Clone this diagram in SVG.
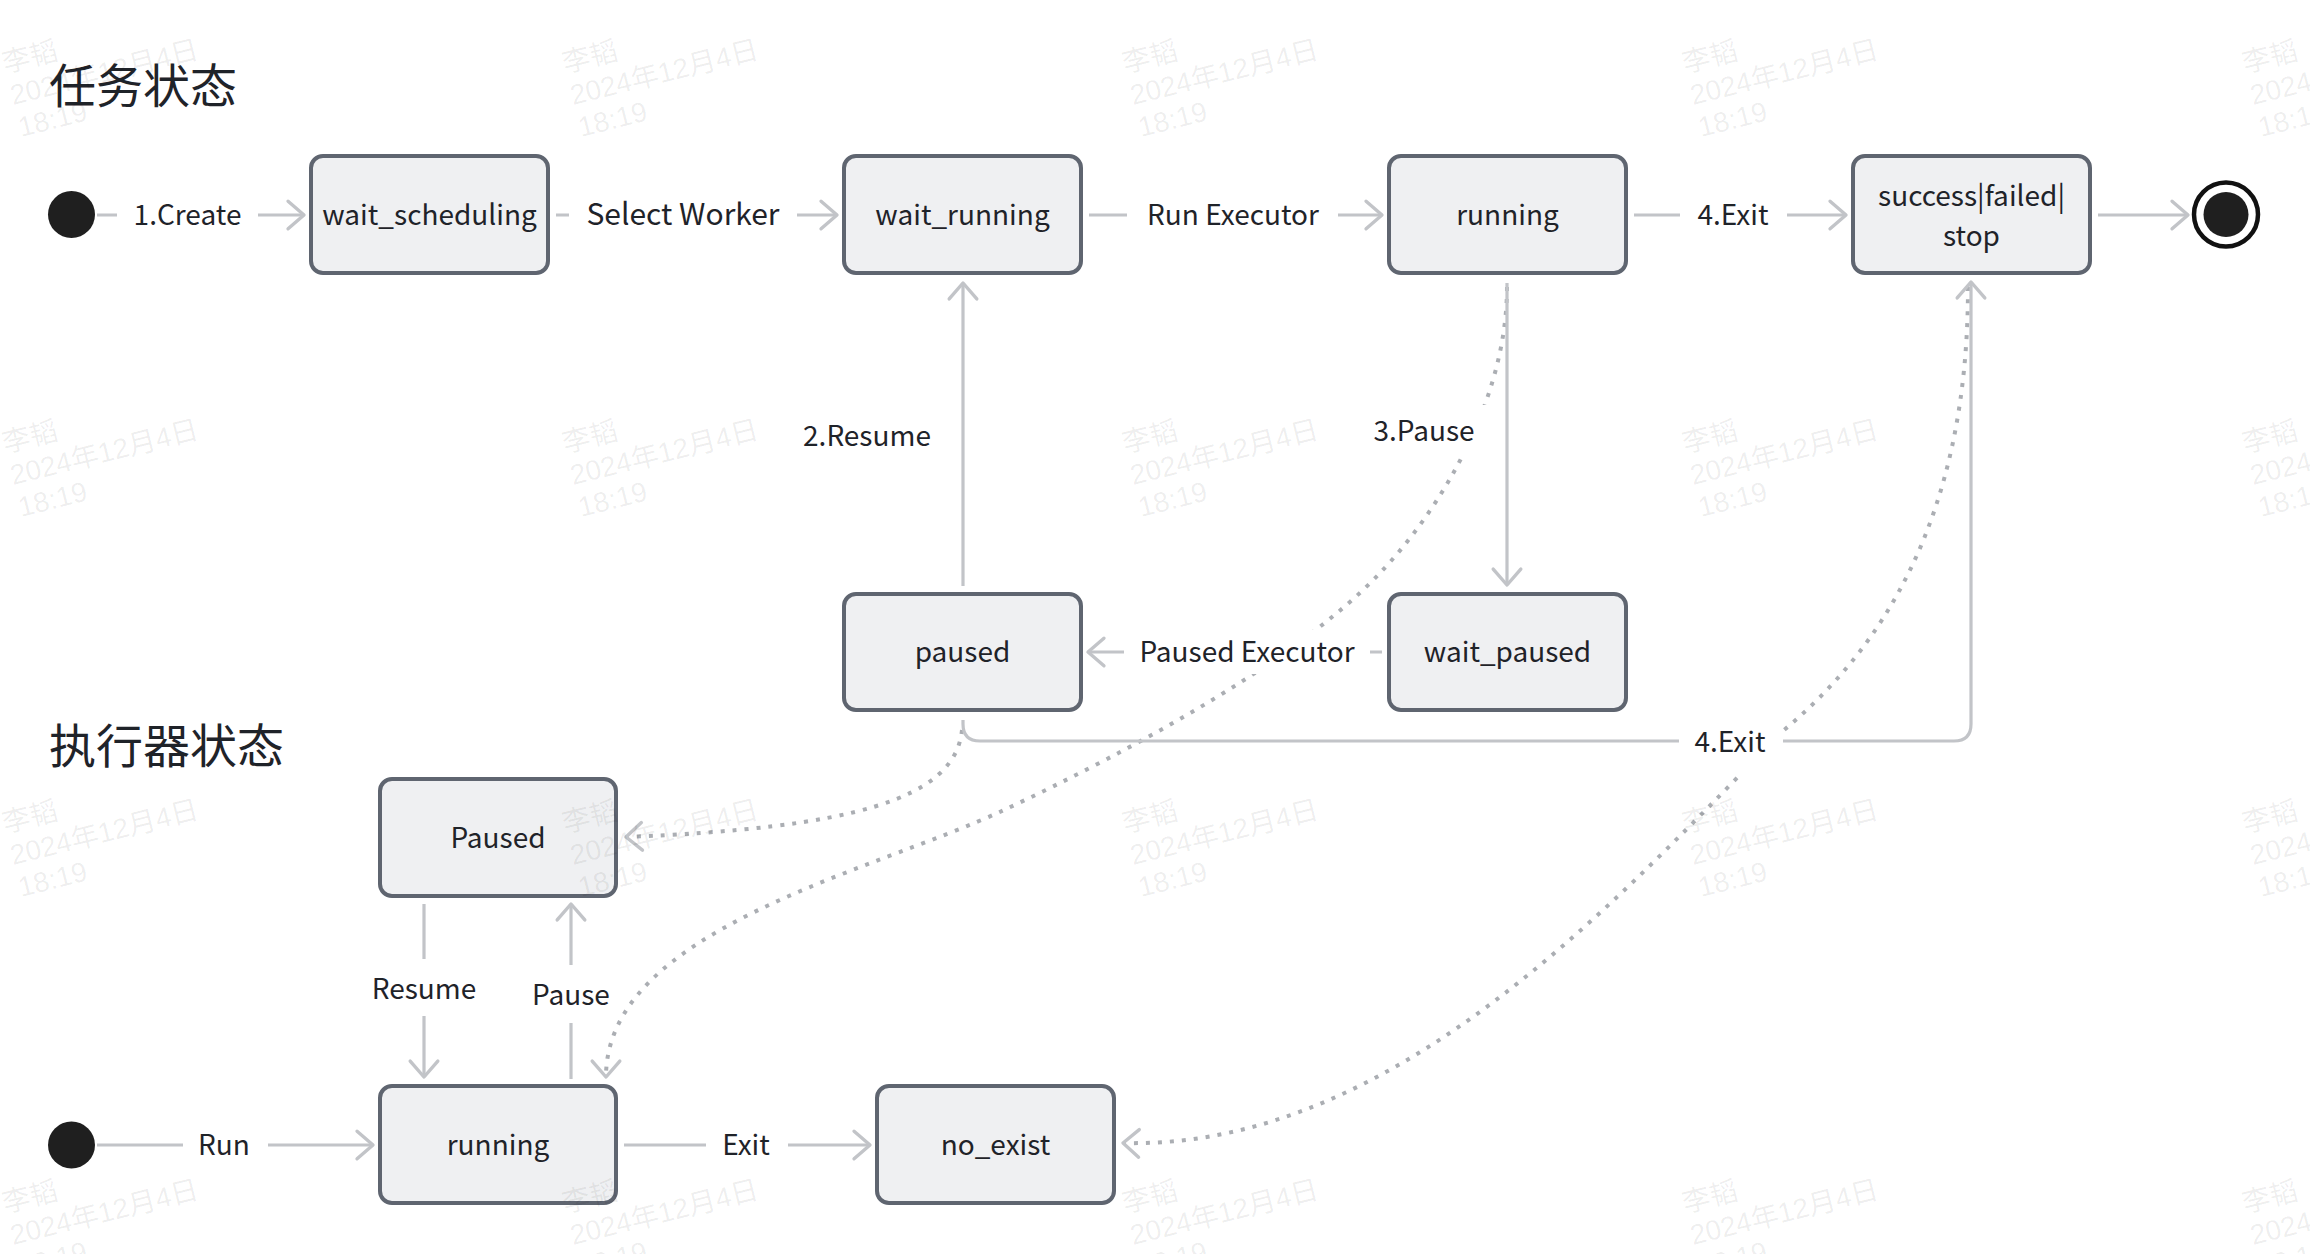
<svg xmlns="http://www.w3.org/2000/svg" width="2310" height="1254" viewBox="0 0 2310 1254">
<style>
.node rect{fill:#eff0f2;stroke:#5f6570;stroke-width:4}
.t{font-family:'Noto Sans CJK SC','Noto Sans',sans-serif;font-size:28px;fill:#1f2329;text-anchor:middle}
.title{font-family:'Noto Sans CJK SC','Noto Sans',sans-serif;font-size:47px;fill:#1f2329}
.edge{fill:none;stroke:#c2c4c8;stroke-width:3.2}
.dot{fill:none;stroke:#abaeb3;stroke-width:4;stroke-dasharray:4 8}
.lbg{fill:#ffffff}
.wm{font-family:'Liberation Sans','Noto Sans CJK SC',sans-serif;font-size:28px;fill:#000;fill-opacity:0.07}
</style>
<defs>
<marker id="arr" markerUnits="userSpaceOnUse" markerWidth="34" markerHeight="34" viewBox="-18 -16 20 32" refX="0" refY="0" orient="auto" overflow="visible">
<path d="M-15,-13 L0,0 L-15,13" fill="none" stroke="#c2c4c8" stroke-width="3.2" stroke-linecap="round" stroke-linejoin="round"/>
</marker>
</defs>
<rect width="2310" height="1254" fill="#ffffff"/>
<text class="title" x="49" y="103">任务状态</text>
<text class="title" x="49" y="763">执行器状态</text>

<g id="connectors">
<path class="dot" d="M962,730 C955,800 850,828 626,837" marker-end="url(#arr)"/>
<path class="dot" d="M1507,287 C1507,400 1440,510 1380,573 C1297,661 1130,751 1004,810 C869,873 606,930 606,1077" marker-end="url(#arr)"/>
<path class="dot" d="M1968,287 C1968,520 1880,650 1784,730 C1630,885 1400,1150 1123,1143" marker-end="url(#arr)"/>

<path class="edge" d="M97,215 H304" marker-end="url(#arr)"/>
<path class="edge" d="M556,215 H837" marker-end="url(#arr)"/>
<path class="edge" d="M1089,215 H1382" marker-end="url(#arr)"/>
<path class="edge" d="M1634,215 H1846" marker-end="url(#arr)"/>
<path class="edge" d="M2098,215 H2188" marker-end="url(#arr)"/>
<path class="edge" d="M1507,283 V585" marker-end="url(#arr)"/>
<path class="edge" d="M963,586 V283" marker-end="url(#arr)"/>
<path class="edge" d="M1382,652 H1088" marker-end="url(#arr)"/>
<path class="edge" d="M963,720 V724 Q963,741 980,741 H1954 Q1971,741 1971,724 V282" marker-end="url(#arr)"/>
<path class="edge" d="M97,1145 H373" marker-end="url(#arr)"/>
<path class="edge" d="M624,1145 H870" marker-end="url(#arr)"/>
<path class="edge" d="M424,904 V1077" marker-end="url(#arr)"/>
<path class="edge" d="M571,1079 V904" marker-end="url(#arr)"/>

<rect class="lbg" x="117" y="195" width="141" height="42"/>
<text class="t" x="187.5" y="225">1.Create</text>
<rect class="lbg" x="569" y="195" width="228" height="42"/>
<text class="t" x="683" y="225" style="font-size:30px">Select Worker</text>
<rect class="lbg" x="1127" y="195" width="211" height="42"/>
<text class="t" x="1233" y="225">Run Executor</text>
<rect class="lbg" x="1680" y="195" width="107" height="42"/>
<text class="t" x="1733" y="225">4.Exit</text>
<rect class="lbg" x="1362" y="405" width="126" height="52"/>
<text class="t" x="1424" y="441">3.Pause</text>
<text class="t" x="867" y="446">2.Resume</text>
<rect class="lbg" x="1124" y="630" width="246" height="44"/>
<text class="t" x="1247" y="662">Paused Executor</text>
<rect class="lbg" x="1679" y="722" width="104" height="52"/>
<text class="t" x="1730" y="752">4.Exit</text>
<rect class="lbg" x="183" y="1125" width="85" height="42"/>
<text class="t" x="224" y="1155">Run</text>
<rect class="lbg" x="706" y="1125" width="82" height="42"/>
<text class="t" x="746" y="1155">Exit</text>
<rect class="lbg" x="370" y="959" width="108" height="57"/>
<text class="t" x="424" y="999">Resume</text>
<rect class="lbg" x="527" y="965" width="88" height="58"/>
<text class="t" x="571" y="1005">Pause</text>
</g>

<g id="task_start"><circle cx="71.5" cy="214.5" r="23.5" fill="#1f1f1f"/></g>
<g id="task_end"><circle cx="2226" cy="214.5" r="32" fill="#ffffff" stroke="#111111" stroke-width="4.5"/><circle cx="2226" cy="214.5" r="22.5" fill="#1f1f1f"/></g>
<g id="wait_scheduling" class="node"><rect x="311" y="156" width="237" height="117" rx="12"/><text class="t" x="429.5" y="225">wait_scheduling</text></g>
<g id="wait_running" class="node"><rect x="844" y="156" width="237" height="117" rx="12"/><text class="t" x="962.5" y="225">wait_running</text></g>
<g id="running_task" class="node"><rect x="1389" y="156" width="237" height="117" rx="12"/><text class="t" x="1507.5" y="225">running</text></g>
<g id="success_failed_stop" class="node"><rect x="1853" y="156" width="237" height="117" rx="12"/><text class="t" x="1971.5" y="206">success|failed|</text><text class="t" x="1971.5" y="246">stop</text></g>
<g id="paused_task" class="node"><rect x="844" y="594" width="237" height="116" rx="12"/><text class="t" x="962.5" y="662">paused</text></g>
<g id="wait_paused" class="node"><rect x="1389" y="594" width="237" height="116" rx="12"/><text class="t" x="1507.5" y="662">wait_paused</text></g>

<g id="exec_start"><circle cx="71.5" cy="1145" r="23.5" fill="#1f1f1f"/></g>
<g id="Paused_exec" class="node"><rect x="380" y="779" width="236" height="117" rx="12"/><text class="t" x="498" y="848">Paused</text></g>
<g id="running_exec" class="node"><rect x="380" y="1086" width="236" height="117" rx="12"/><text class="t" x="498" y="1155">running</text></g>
<g id="no_exist" class="node"><rect x="877" y="1086" width="237" height="117" rx="12"/><text class="t" x="995.5" y="1155">no_exist</text></g>

<g id="watermarks">
<g transform="translate(5,73) rotate(-14)"><text class="wm" x="0" y="0">李韬</text><text class="wm" x="0" y="33">2024年12月4日</text><text class="wm" x="0" y="66">18:19</text></g>
<g transform="translate(565,73) rotate(-14)"><text class="wm" x="0" y="0">李韬</text><text class="wm" x="0" y="33">2024年12月4日</text><text class="wm" x="0" y="66">18:19</text></g>
<g transform="translate(1125,73) rotate(-14)"><text class="wm" x="0" y="0">李韬</text><text class="wm" x="0" y="33">2024年12月4日</text><text class="wm" x="0" y="66">18:19</text></g>
<g transform="translate(1685,73) rotate(-14)"><text class="wm" x="0" y="0">李韬</text><text class="wm" x="0" y="33">2024年12月4日</text><text class="wm" x="0" y="66">18:19</text></g>
<g transform="translate(2245,73) rotate(-14)"><text class="wm" x="0" y="0">李韬</text><text class="wm" x="0" y="33">2024年12月4日</text><text class="wm" x="0" y="66">18:19</text></g>
<g transform="translate(5,453) rotate(-14)"><text class="wm" x="0" y="0">李韬</text><text class="wm" x="0" y="33">2024年12月4日</text><text class="wm" x="0" y="66">18:19</text></g>
<g transform="translate(565,453) rotate(-14)"><text class="wm" x="0" y="0">李韬</text><text class="wm" x="0" y="33">2024年12月4日</text><text class="wm" x="0" y="66">18:19</text></g>
<g transform="translate(1125,453) rotate(-14)"><text class="wm" x="0" y="0">李韬</text><text class="wm" x="0" y="33">2024年12月4日</text><text class="wm" x="0" y="66">18:19</text></g>
<g transform="translate(1685,453) rotate(-14)"><text class="wm" x="0" y="0">李韬</text><text class="wm" x="0" y="33">2024年12月4日</text><text class="wm" x="0" y="66">18:19</text></g>
<g transform="translate(2245,453) rotate(-14)"><text class="wm" x="0" y="0">李韬</text><text class="wm" x="0" y="33">2024年12月4日</text><text class="wm" x="0" y="66">18:19</text></g>
<g transform="translate(5,833) rotate(-14)"><text class="wm" x="0" y="0">李韬</text><text class="wm" x="0" y="33">2024年12月4日</text><text class="wm" x="0" y="66">18:19</text></g>
<g transform="translate(565,833) rotate(-14)"><text class="wm" x="0" y="0">李韬</text><text class="wm" x="0" y="33">2024年12月4日</text><text class="wm" x="0" y="66">18:19</text></g>
<g transform="translate(1125,833) rotate(-14)"><text class="wm" x="0" y="0">李韬</text><text class="wm" x="0" y="33">2024年12月4日</text><text class="wm" x="0" y="66">18:19</text></g>
<g transform="translate(1685,833) rotate(-14)"><text class="wm" x="0" y="0">李韬</text><text class="wm" x="0" y="33">2024年12月4日</text><text class="wm" x="0" y="66">18:19</text></g>
<g transform="translate(2245,833) rotate(-14)"><text class="wm" x="0" y="0">李韬</text><text class="wm" x="0" y="33">2024年12月4日</text><text class="wm" x="0" y="66">18:19</text></g>
<g transform="translate(5,1213) rotate(-14)"><text class="wm" x="0" y="0">李韬</text><text class="wm" x="0" y="33">2024年12月4日</text><text class="wm" x="0" y="66">18:19</text></g>
<g transform="translate(565,1213) rotate(-14)"><text class="wm" x="0" y="0">李韬</text><text class="wm" x="0" y="33">2024年12月4日</text><text class="wm" x="0" y="66">18:19</text></g>
<g transform="translate(1125,1213) rotate(-14)"><text class="wm" x="0" y="0">李韬</text><text class="wm" x="0" y="33">2024年12月4日</text><text class="wm" x="0" y="66">18:19</text></g>
<g transform="translate(1685,1213) rotate(-14)"><text class="wm" x="0" y="0">李韬</text><text class="wm" x="0" y="33">2024年12月4日</text><text class="wm" x="0" y="66">18:19</text></g>
<g transform="translate(2245,1213) rotate(-14)"><text class="wm" x="0" y="0">李韬</text><text class="wm" x="0" y="33">2024年12月4日</text><text class="wm" x="0" y="66">18:19</text></g>
</g>
</svg>
